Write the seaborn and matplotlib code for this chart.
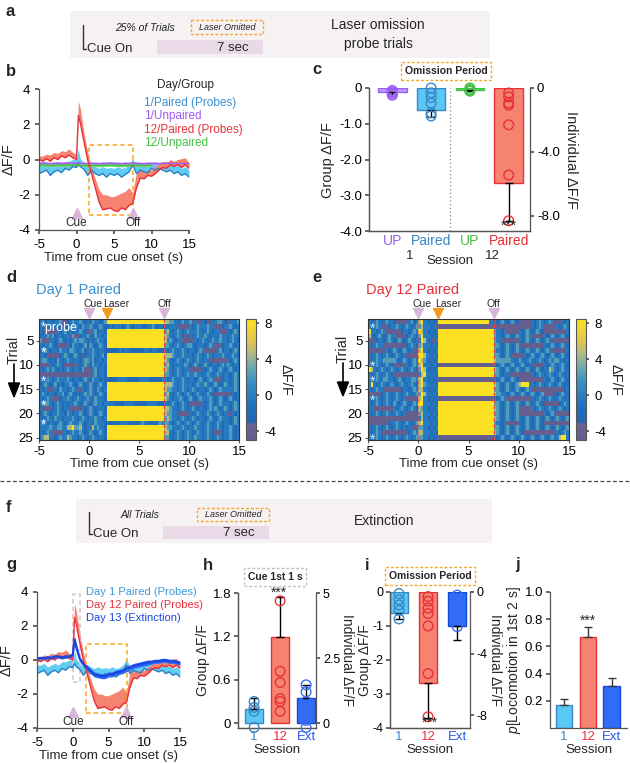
import numpy as np
import pandas as pd
import matplotlib
matplotlib.use('Agg')
import matplotlib.pyplot as plt
import matplotlib.transforms as mtransforms
from matplotlib.colors import LinearSegmentedColormap
from matplotlib.patches import Rectangle, Polygon
import seaborn as sns

sns.set_theme(style='ticks')
plt.rcParams['font.family'] = ['Liberation Sans', 'DejaVu Sans']
plt.rcParams['mathtext.fontset'] = 'custom'
plt.rcParams['mathtext.it'] = 'Liberation Sans:italic'
plt.rcParams['mathtext.rm'] = 'Liberation Sans'
plt.rcParams['axes.unicode_minus'] = False
plt.rcParams['xtick.labelsize'] = 9.5
plt.rcParams['ytick.labelsize'] = 9.5
plt.rcParams['axes.edgecolor'] = '#555555'
plt.rcParams['axes.linewidth'] = 0.9
plt.rcParams['xtick.color'] = '#555555'
plt.rcParams['ytick.color'] = '#555555'
plt.rcParams['xtick.labelcolor'] = 'black'
plt.rcParams['ytick.labelcolor'] = 'black'
plt.rcParams['xtick.major.size'] = 3
plt.rcParams['ytick.major.size'] = 3

# ---------------- data ----------------
TIME = [-5, -4.5, -4, -3.5, -3, -2.5, -2, -1.5, -1, -0.5, 0, 0.25, 0.5,
        1, 1.5, 2, 2.5, 3, 3.5, 4, 4.5, 5, 5.5, 6, 6.5, 7, 7.5, 8, 8.5, 9,
        9.5, 10, 10.5, 11, 11.5, 12, 12.5, 13, 13.5, 14, 14.5, 15]

D12P_LO = [0.0, -0.1, 0.05, -0.1, 0.1, 0.0, 0.2, 0.1, 0.25, 0.1, 0.0, 2.5, 2.1,
           1.0, -0.05, -0.8, -1.6, -2.4, -2.85, -2.8, -2.75, -2.9, -2.95, -2.75, -2.85, -2.6, -2.5,
           -1.6, -1.05, -1.1, -0.9, -0.95, -0.8, -0.6, -0.45, -0.5, -0.3, -0.4, -0.3, -0.45, -0.3, -0.5]
D12P_HI = [0.2, 0.2, 0.3, 0.25, 0.4, 0.35, 0.5, 0.45, 0.6, 0.4, 0.3, 3.3, 2.9,
           1.5, 0.4, -0.45, -1.1, -1.7, -2.0, -2.0, -2.1, -2.1, -2.0, -1.9, -1.8, -1.6, -1.9,
           -0.7, -0.6, -0.7, -0.6, -0.6, -0.4, -0.3, -0.1, -0.2, 0.0, -0.1, 0.0, 0.05, 0.1, -0.2]
D1P_LO = [-0.8, -0.7, -0.6, -0.9, -0.7, -0.6, -0.75, -0.5, -0.6, -0.4, -0.45, -0.2, -0.4,
          -0.55, -0.9, -0.6, -0.8, -0.9, -0.8, -1.0, -0.8, -0.9, -0.8, -1.0, -0.85, -0.7, -0.3,
          -0.8, -0.6, -0.7, -0.75, -0.5, -0.6, -0.5, -0.6, -0.7, -0.6, -0.8, -0.7, -0.9, -0.8, -1.0]
D1P_HI = [-0.3, -0.3, -0.2, -0.4, -0.3, -0.2, -0.3, -0.1, -0.1, 0.0, 0.0, 0.6, 0.05,
          -0.2, -0.4, -0.25, -0.4, -0.5, -0.4, -0.5, -0.45, -0.5, -0.4, -0.5, -0.45, -0.3, 0.05,
          -0.4, -0.3, -0.3, -0.35, -0.2, -0.2, -0.2, -0.25, -0.3, -0.3, -0.4, -0.35, -0.5, -0.4, -0.6]
D1U_LO = [-0.3, -0.28, -0.3, -0.32, -0.3, -0.28, -0.3, -0.3, -0.28, -0.3, -0.3, -0.25, -0.3,
          -0.3, -0.32, -0.3, -0.3, -0.32, -0.3, -0.3, -0.28, -0.3, -0.3, -0.32, -0.3, -0.3, -0.28,
          -0.3, -0.3, -0.32, -0.3, -0.3, -0.3, -0.32, -0.3, -0.28, -0.3, -0.3, -0.32, -0.3, -0.3, -0.3]
D1U_HI = [-0.15, -0.12, -0.14, -0.16, -0.14, -0.12, -0.15, -0.14, -0.12, -0.15, -0.14, -0.08, -0.14,
          -0.14, -0.16, -0.14, -0.15, -0.16, -0.14, -0.15, -0.12, -0.14, -0.15, -0.16, -0.14, -0.15, -0.12,
          -0.14, -0.15, -0.16, -0.14, -0.15, -0.14, -0.16, -0.15, -0.12, -0.14, -0.15, -0.16, -0.14, -0.15, -0.14]
TIME_U12 = TIME[:32]
D12U_LO = [-0.4, -0.38, -0.4, -0.42, -0.4, -0.38, -0.4, -0.4, -0.38, -0.4, -0.4, -0.36, -0.4,
           -0.4, -0.42, -0.4, -0.4, -0.42, -0.4, -0.4, -0.38, -0.4, -0.4, -0.42, -0.4, -0.4, -0.38,
           -0.4, -0.4, -0.42, -0.4, -0.4]
D12U_HI = [-0.26, -0.24, -0.26, -0.28, -0.26, -0.24, -0.26, -0.26, -0.24, -0.26, -0.26, -0.2, -0.26,
           -0.26, -0.28, -0.26, -0.26, -0.28, -0.26, -0.26, -0.24, -0.26, -0.26, -0.28, -0.26, -0.26, -0.24,
           -0.26, -0.26, -0.28, -0.26, -0.26]
D13_LO = [0.0, 0.05, 0.0, 0.05, 0.05, 0.1, 0.1, 0.05, 0.1, 0.1, 0.2, 1.0, 0.5,
          -0.1, -0.4, -0.6, -0.8, -1.0, -1.05, -1.1, -1.1, -1.0, -1.0, -0.9, -0.85, -0.8, -0.7,
          -0.6, -0.5, -0.45, -0.4, -0.35, -0.3, -0.25, -0.2, -0.2, -0.15, -0.15, -0.2, -0.2, -0.25, -0.3]
D13_HI = [0.2, 0.2, 0.2, 0.25, 0.2, 0.3, 0.3, 0.25, 0.3, 0.3, 0.4, 1.4, 1.0,
          0.2, -0.1, -0.3, -0.5, -0.7, -0.75, -0.8, -0.8, -0.7, -0.7, -0.6, -0.55, -0.5, -0.3,
          -0.3, -0.2, -0.15, -0.1, -0.05, 0.0, 0.0, 0.05, 0.05, 0.1, 0.1, 0.05, 0.05, 0.0, -0.05]

# panel c (group means, lower error ends) and individual points (right axis)
C_LABELS = ['UP', 'Paired', 'UP', 'Paired']
C_MEAN = [-0.1, -0.62, -0.05, -2.67]
C_ERR = [-0.16, -0.8, -0.08, -3.72]
C_IND = [[-0.15, -0.25, -0.3, -0.4, -0.45],
         [0.0, -0.3, -0.6, -0.95, -1.55, -1.75],
         [0.0, -0.1, -0.2, -0.15],
         [-0.31, -0.56, -0.94, -1.07, -2.3, -5.44, -8.3]]
# panel h
H_LABELS = ['1', '12', 'Ext']
H_MEAN = [0.2, 1.19, 0.35]
H_ERR = [0.35, 1.745, 0.53]
H_IND = [[0.83, 0.6, 0.45, -0.17],
         [4.7, 1.99, 1.56, 0.94, 0.83, 0.45],
         [1.47, 1.2, 0.83, 0.45, 0.1, -0.17]]
# panel i
I_MEAN = [-0.62, -2.67, -1.0]
I_ERR = [-0.8, -3.72, -1.4]
I_IND = [[-0.1, -0.5, -0.84, -1.2, -1.75],
         [-0.3, -0.6, -1.05, -1.4, -2.2, -5.3, -8.1],
         [-0.2, -0.84, -1.5, -2.25]]
# panel j
J_MEAN = [0.17, 0.67, 0.31]
J_ERR = [0.21, 0.74, 0.37]

# heatmaps: rows = trials, chars = 0.25 s bins (-5 .. 15 s); parts: pre | laser | post
HEAT_LEVELS = {'0': -4.5, '1': -2.2, '2': -0.5, '3': 2.3, '4': 4.8, '5': 8.3}
D_PROBES = [2, 7, 13, 18, 22]
D_ROWS = [
    "23122 12230 01232 23212 13221 23 | 55555 55555 55555 55555 555 | 44332 12322 30200 21002 23321 02223",
    "21222 32201 12232 21322 32123 21 | 12122 21232 12221 12232 121 | 21222 00000 21232 22322 00012 23212",
    "21000 00212 31212 23210 02312 21 | 55555 55555 55555 55555 555 | 34212 32123 22232 12321 22000 21232",
    "12232 31221 22030 01223 21322 12 | 55555 55555 55555 55555 555 | 43212 32100 21232 23212 21322 12322",
    "30002 21232 12123 23321 21232 21 | 55555 55555 55555 55555 555 | 42321 22000 00212 32123 22322 12321",
    "21223 21000 02132 21231 32123 21 | 55555 55555 55555 55555 555 | 33212 32123 32122 21232 00012 23212",
    "12321 22132 21332 12312 23212 21 | 11111 21221 11111 22122 111 | 21232 12321 22123 20000 02312 21232",
    "22100 00012 32123 21012 23212 31 | 55555 55555 55555 55555 555 | 44432 12322 21232 12321 22232 12321",
    "23321 21321 23212 21233 23122 12 | 55555 55555 55555 55555 555 | 43212 32123 21232 12200 00000 21232",
    "00002 12321 00000 21232 13221 21 | 55555 55555 55555 55555 555 | 34212 22232 12321 23212 21232 32122",
    "21232 32121 23212 21300 02312 21 | 55555 55555 55555 55555 555 | 43212 32122 00000 21232 12321 23212",
    "00000 00000 00000 00000 02312 21 | 55555 55555 55555 55555 555 | 33212 32123 22322 12321 23212 21232",
    "21232 12322 23212 21232 13221 21 | 11112 22211 11122 22111 112 | 21232 12321 22123 21232 00012 21232",
    "12321 23121 22321 23212 32123 21 | 55555 55555 55555 55555 555 | 44432 12322 21232 23212 32123 21232",
    "21200 02132 21232 00212 32132 12 | 55555 55555 55555 55555 555 | 43322 12321 23212 21232 12322 22232",
    "23212 21223 12321 21232 32123 21 | 55555 55555 55555 55555 555 | 34212 32123 21232 12321 00000 00212",
    "21232 00012 23212 32123 21322 21 | 55555 55555 55555 55555 555 | 43212 23212 32123 22232 12321 23212",
    "22332 12321 21223 21232 12322 12 | 22211 11222 21111 12222 111 | 21232 12321 00000 21232 12322 21232",
    "20000 12321 22000 00212 32122 21 | 55555 55555 55555 55555 555 | 44322 12321 23212 21232 32123 21232",
    "12321 22322 13212 23212 32123 21 | 55555 55555 55555 55555 555 | 43322 00000 21232 12321 23212 00212",
    "21232 13221 22232 12321 22322 12 | 55555 55555 55555 55555 555 | 34322 12321 23212 21232 12322 21232",
    "23212 21232 12322 23212 21322 21 | 21111 22221 11123 21111 232 | 33212 32123 21232 12321 23212 21232",
    "22223 22332 24453 34212 24232 21 | 55555 55555 55555 55555 555 | 43322 12321 22322 12321 23212 23212",
    "21232 00000 21232 23212 32123 21 | 55555 55555 55555 55555 555 | 44212 32123 21232 12321 00012 23212",
    "23442 21232 24322 12321 23212 21 | 55555 55555 55555 55555 555 | 33212 32123 22322 12321 23212 23212",
]
E_PROBES = [2, 10, 13, 17, 25]
E_ROWS = [
    "21232 12322 10000 02312 4522 1212 | 55555 55555 55555 55555 22 | 21232 12321 00000 21232 12320 00212",
    "21232 00012 23212 32123 3422 2120 | 00000 00000 00000 00000 00 | 00000 00000 00000 21232 00000 21232",
    "52212 32000 00012 21232 5422 1212 | 55555 55555 55555 55555 55 | 32212 00000 21232 12321 00000 00002",
    "42123 21232 20000 12321 3522 2121 | 55555 55555 55555 55555 55 | 32212 32123 21232 00000 21232 12321",
    "00012 21232 12321 23212 2542 1002 | 55555 55555 55555 55555 55 | 32200 00000 21232 12321 23200 00000",
    "21232 20000 00000 12321 3422 2121 | 55555 55555 55555 55555 55 | 33212 32123 00000 00000 21232 12321",
    "00000 00212 32123 21200 4522 1212 | 55555 55555 55555 55555 55 | 32212 32123 21232 12321 23200 00002",
    "21232 12321 23212 00000 5542 2121 | 55555 55555 55555 55555 55 | 33212 32000 00212 32123 21232 12321",
    "21232 23333 32123 21232 5432 1212 | 55555 55555 55555 55555 55 | 43333 33212 32123 21232 12323 32212",
    "21232 12321 00000 21232 4522 2121 | 00000 00000 00000 00000 00 | 21232 12321 23212 00000 21232 12321",
    "54212 32123 21232 12321 3542 1212 | 55555 55555 55555 55555 55 | 43212 32123 21232 12321 22432 12321",
    "21232 12321 00000 00000 2452 2121 | 55555 55555 55555 55555 55 | 33212 20000 00000 21232 12321 23212",
    "21232 23322 12321 22332 4522 1212 | 00000 00000 00000 00000 00 | 21232 12321 00000 00000 21232 12321",
    "25212 32123 21232 12321 4532 2121 | 55555 55555 55555 55555 55 | 43212 32123 45552 21232 12321 23212",
    "21232 20000 00012 21232 4422 1212 | 55555 55555 55555 55555 55 | 33212 32123 21232 00000 00000 00012",
    "00000 12321 23212 32123 3542 2121 | 55555 55555 55555 55555 55 | 43322 12321 23212 32123 00000 12321",
    "21232 12321 23212 00000 4522 1212 | 00000 00000 00000 00000 00 | 21232 00000 00000 21232 12321 23212",
    "21232 12321 32123 21232 5522 2121 | 55555 55555 55555 55555 55 | 33212 32123 21232 12321 00000 01232",
    "22000 00000 21232 12321 4322 1212 | 55555 55555 55555 55555 55 | 43212 32123 00000 21232 12321 23212",
    "21232 12321 23212 00000 3422 2121 | 55555 55555 55555 55555 55 | 33212 32123 00000 00000 21232 00000",
    "00000 00000 00000 00000 2422 1212 | 55555 55555 55555 55555 55 | 43212 32123 21232 12321 23212 32123",
    "00000 00012 23212 32123 4522 2121 | 55555 55555 55555 55555 55 | 32212 00000 21232 12321 00000 00000",
    "21232 12321 23212 12000 3322 1212 | 55555 55555 55555 55555 55 | 33212 32123 21232 12321 23212 32123",
    "21232 00000 00000 01232 4422 2121 | 55555 55555 55555 55555 55 | 43212 32123 21000 00000 00000 21232",
    "21232 12321 23212 32123 3322 1212 | 00000 00000 00000 00000 00 | 21232 12321 23212 32123 21232 24552",
]

# ---------------- colours ----------------
LBLUE_FILL, LBLUE_LINE = '#62cdf2', '#2f7fc4'
RED_FILL, RED_LINE = '#f5836f', '#e8303a'
PURPLE, GREEN = '#9d5cf5', '#44c044'
EXT_FILL, EXT_LINE = '#2f6cf8', '#1c45e0'
ORANGE = '#f5a623'
TRI = '#d9b6d9'
HMAP = LinearSegmentedColormap.from_list('parulaish', [
    (0.0, '#635d8e'), (0.126, '#6a6494'), (0.148, '#2864b0'), (0.259, '#1c6fbd'),
    (0.370, '#2a7fc2'), (0.481, '#3990c2'), (0.593, '#6aa8b2'), (0.704, '#a8b88a'),
    (0.815, '#e0c450'), (1.0, '#fde31e')])

W, H = 630, 763
fig = plt.figure(figsize=(W / 100, H / 100), dpi=100)


def axpx(l, t, r, b):
    ax = fig.add_axes([l / W, 1 - b / H, (r - l) / W, (b - t) / H])
    ax.set_facecolor('none')
    return ax


ov = fig.add_axes([0, 0, 1, 1])
ov.set_xlim(0, W)
ov.set_ylim(H, 0)
ov.axis('off')
ov.set_zorder(10)
ov.patch.set_visible(False)


def label(x, y, s):
    ov.text(x, y, s, fontsize=12, fontweight='bold', ha='left', va='center')


def trace(ax, t, lo, hi, fill, line, lw=1.0, mid=False):
    ax.fill_between(t, lo, hi, color=fill, lw=0)
    yy = (np.array(lo) + np.array(hi)) / 2 if mid else lo
    sns.lineplot(x=t, y=yy, color=line, lw=lw, ax=ax, estimator=None)


def style_trace_ax(ax):
    ax.set_xlim(-5, 15)
    ax.set_ylim(-4, 4)
    ax.set_xticks([-5, 0, 5, 10, 15])
    ax.set_yticks([-4, -2, 0, 2, 4])
    ax.set_xlabel('Time from cue onset (s)', fontsize=9.5, labelpad=1)
    ax.set_ylabel('ΔF/F', fontsize=10.5, labelpad=2)
    sns.despine(ax=ax)


def schedule_box(x0, y0, x1, y1, top_text, right_text):
    ov.add_patch(Rectangle((x0, y0), x1 - x0, y1 - y0, fc='#f6f1f2', ec='none'))
    h = y1 - y0
    ov.plot([x0 + 13, x0 + 13, x0 + 16], [y0 + 0.3 * h, y0 + 0.8 * h, y0 + 0.8 * h], color='#333333', lw=1)
    ov.text(x0 + 17, y0 + 0.8 * h, 'Cue On', fontsize=9.5, va='center', ha='left')
    ov.text(x0 + 45, y0 + 0.36 * h, top_text, fontsize=7.5, style='italic', va='center', ha='left')
    ov.add_patch(Rectangle((x0 + 121, y0 + 0.2 * h), 72, 0.29 * h, fill=False, ec=ORANGE, ls=(0, (2, 1.5)), lw=1))
    ov.text(x0 + 157, y0 + 0.345 * h, 'Laser Omitted', fontsize=6.5, style='italic', va='center', ha='center')
    ov.add_patch(Rectangle((x0 + 87, y0 + 0.62 * h), 106, 0.3 * h, fc='#ead9e6', ec='none'))
    ov.text(x0 + 163, y0 + 0.78 * h, '7 sec', fontsize=9.5, va='center', ha='center')
    ov.text(x0 + 308, y0 + 0.5 * h, right_text, fontsize=10, va='center', ha='center', linespacing=1.5)


# ---------------- a ----------------
label(6, 12, 'a')
schedule_box(70, 11, 490, 58, '25% of Trials', 'Laser omission\nprobe trials')

# ---------------- b ----------------
label(6, 72, 'b')
axb = axpx(39, 89, 189, 230)
trace(axb, TIME, D1P_LO, D1P_HI, LBLUE_FILL, LBLUE_LINE)
trace(axb, TIME, D1U_LO, D1U_HI, '#b995f8', PURPLE, mid=True)
trace(axb, TIME_U12, D12U_LO, D12U_HI, '#7ad67a', GREEN, mid=True)
trace(axb, TIME, D12P_LO, D12P_HI, RED_FILL, RED_LINE)
axb.add_patch(Rectangle((1.7, -3.16), 5.83, 3.98, fill=False, ec=ORANGE, ls=(0, (3, 2)), lw=1.1))
for xx, tt in [(0, 'Cue'), (7.5, 'Off')]:
    axb.plot([xx], [-3.05], marker='^', ms=7, color=TRI, clip_on=False, ls='none')
    axb.text(xx, -3.62, tt, fontsize=8.5, ha='center', va='center')
style_trace_ax(axb)
ov.text(185, 85, 'Day/Group', fontsize=8.5, ha='center', va='center')
for yy, s, c in [(103, '1/Paired (Probes)', '#3a8fd0'), (116, '1/Unpaired', PURPLE),
                 (130, '12/Paired (Probes)', RED_LINE), (143, '12/Unpaired', GREEN)]:
    ov.text(144, yy, s, fontsize=8.5, color=c, ha='left', va='center')


# ---------------- bar helper ----------------
def bar_panel(ax, means, errs, ind, fills, edges, pt_edges, width, xlim, ylim, ylim_r):
    n = len(means)
    idx = list(range(n))
    sns.barplot(x=idx, y=means, hue=idx, palette=fills, legend=False, width=width,
                saturation=1, ax=ax, zorder=2)
    for p, ec in zip(ax.patches, edges):
        p.set_edgecolor(ec)
        p.set_linewidth(1.0)
    for i, (m, e) in enumerate(zip(means, errs)):
        if e < m:
            yerr = [[m - e], [0]]
        else:
            yerr = [[0], [e - m]]
        ax.errorbar([i], [m], yerr=yerr, fmt='none', ecolor='black', elinewidth=1, capsize=3,
                    capthick=1, zorder=3)
    ax2 = ax.twinx()
    for i, vals in enumerate(ind):
        sns.scatterplot(x=[i] * len(vals), y=vals, ax=ax2, s=48, color=pt_edges[i],
                        facecolor='none', edgecolor=pt_edges[i], linewidth=1.0, clip_on=False,
                        legend=False, zorder=4)
    ax.set_xlim(*xlim)
    ax.set_ylim(*ylim)
    ax2.set_ylim(*ylim_r)
    ax.spines['top'].set_visible(False)
    ax2.spines['top'].set_visible(False)
    ax.spines['right'].set_visible(False)
    ax.tick_params(axis='x', length=0, pad=2)
    ax.tick_params(axis='y', pad=2)
    ax2.tick_params(axis='y', pad=2)
    ax.set_xlabel('')
    ax2.set_xlabel('')
    return ax2


# ---------------- c ----------------
label(312, 70, 'c')
axc = axpx(369, 88, 530, 231)
axc2 = bar_panel(axc, C_MEAN, C_ERR, C_IND,
                 ['#b9a0f7', '#5ac8f5', '#7ad67a', RED_FILL],
                 [PURPLE, '#3a86c8', GREEN, RED_LINE],
                 [PURPLE, '#3a86c8', GREEN, RED_LINE],
                 0.74, (-0.6, 3.55), (-4, 0), (-8.94, 0))
axc.axvline(1.5, color='#888888', ls=(0, (1, 2)), lw=0.9)
axc.set_yticks([0, -1, -2, -3, -4])
axc.set_yticklabels(['0', '-1.0', '-2.0', '-3.0', '-4.0'])
axc2.set_yticks([0, -4, -8])
axc2.set_yticklabels(['0', '-4.0', '-8.0'])
axc.set_xticks([0, 1, 2, 3])
axc.set_xticklabels(C_LABELS, fontsize=10)
for tl, c in zip(axc.get_xticklabels(), [PURPLE, '#3a86c8', GREEN, RED_LINE]):
    tl.set_color(c)
axc.set_ylabel('Group ΔF/F', fontsize=10.5, labelpad=3)
axc2.set_ylabel('Individual ΔF/F', fontsize=10.5, rotation=270, va='bottom', labelpad=3)
ov.text(410, 256, '1', fontsize=9.5, ha='center', va='center')
ov.text(492, 256, '12', fontsize=9.5, ha='center', va='center')
ov.text(450, 261, 'Session', fontsize=9.5, ha='center', va='center')
ov.text(509, 226, '***', fontsize=10, ha='center', va='center')
ov.text(446, 71, 'Omission Period', fontsize=7.5, fontweight='bold', ha='center', va='center',
        bbox=dict(boxstyle='square,pad=0.35', fc='white', ec=ORANGE, ls=(0, (2, 1.5)), lw=1))


# ---------------- d / e heatmaps ----------------
def build(rows, lens):
    mat = []
    for r in rows:
        parts = [p.replace(' ', '') for p in r.split('|')]
        s = ''.join((p + p[-1] * n)[:n] for p, n in zip(parts, lens))
        mat.append([HEAT_LEVELS[ch] for ch in s])
    return np.array(mat, dtype=float)


def heat_panel(ax, cax, mat, probes, laser_col, star_color, title, title_color, tx, first_probe_text):
    sns.heatmap(mat, ax=ax, cbar_ax=cax, cmap=HMAP, vmin=-5, vmax=8.5,
                xticklabels=False, yticklabels=False, rasterized=True)
    ax.set_xticks([0, 20, 40, 60, 80])
    ax.set_xticklabels(['-5', '0', '5', '10', '15'], rotation=0)
    ax.set_yticks([4.5, 9.5, 14.5, 19.5, 24.5])
    ax.set_yticklabels(['5', '10', '15', '20', '25'], rotation=0)
    ax.tick_params(axis='both', length=2.5, width=0.8, left=True, bottom=True, pad=1.5)
    for s in ax.spines.values():
        s.set_visible(True)
        s.set_linewidth(0.8)
        s.set_color('#333333')
    ax.set_xlabel('Time from cue onset (s)', fontsize=9.5, labelpad=0)
    ax.set_ylabel('')
    ax.axvline(20, color='#e8403a', ls=(0, (3, 2)), lw=0.9, alpha=0.6)
    ax.axvline(50, color='#e8403a', ls=(0, (3, 2)), lw=0.9)
    trans = mtransforms.blended_transform_factory(ax.transData, ax.transAxes)
    for xx, dx, tt, cc in [(20, 1.6, 'Cue', TRI), (laser_col, 3.8, 'Laser', '#f39a1e'), (50, 0, 'Off', TRI)]:
        ax.plot([xx], [1.05], marker='v', ms=7, color=cc, transform=trans, clip_on=False, ls='none')
        ax.text(xx + dx, 1.125, tt, fontsize=7.5, ha='center', va='center', transform=trans)
    for k, r in enumerate(probes):
        txt = '*probe' if (k == 0 and first_probe_text) else '*'
        ax.text(0.8, r - 0.5 + 0.45, txt, color=star_color, fontsize=9 if k == 0 and first_probe_text else 10,
                ha='left', va='center')
    cb = ax.collections[0].colorbar
    cb.set_ticks([-4, 0, 4, 8])
    cb.ax.tick_params(labelsize=9.5, length=2.5)
    cb.outline.set_visible(True)
    cb.outline.set_linewidth(0.8)
    cb.set_label('ΔF/F', rotation=270, fontsize=10.5, labelpad=12)
    ov.text(tx, 290, title, color=title_color, fontsize=10.5, ha='left', va='center')


def trial_arrow(x, ytext):
    ov.text(x, ytext, 'Trial', rotation=90, fontsize=10.5, ha='center', va='center')
    ov.plot([x, x], [ytext + 14, ytext + 34], color='black', lw=1.2)
    ov.add_patch(Polygon([[x - 5.5, ytext + 33], [x + 5.5, ytext + 33], [x, ytext + 47]],
                         closed=True, color='black'))


label(6, 278, 'd')
axd = axpx(39, 319, 239, 440)
cad = axpx(246, 319, 256, 440)
heat_panel(axd, cad, build(D_ROWS, [27, 23, 30]), D_PROBES, 27.2, 'white',
           'Day 1 Paired', '#3a8fd0', 36, True)
trial_arrow(14, 350)

label(312, 278, 'e')
axe = axpx(368, 319, 569, 440)
cae = axpx(576, 319, 586, 440)
heat_panel(axe, cae, build(E_ROWS, [28, 22, 30]), E_PROBES, 28, '#d6ecff',
           'Day 12 Paired', RED_LINE, 366, False)
trial_arrow(343, 349)

# ---------------- separator and f ----------------
ov.plot([0, W], [481, 481], color='#444444', ls=(0, (3, 2)), lw=0.9)
label(6, 508, 'f')
schedule_box(76, 499, 492, 543, 'All Trials', 'Extinction')

# ---------------- g ----------------
label(6, 565, 'g')
axg = axpx(37, 592, 180, 728)
trace(axg, TIME, D1P_LO, D1P_HI, LBLUE_FILL, LBLUE_LINE)
trace(axg, TIME, D12P_LO, D12P_HI, RED_FILL, RED_LINE)
trace(axg, TIME, D13_LO, D13_HI, EXT_FILL, EXT_LINE, lw=1.6, mid=True)
axg.add_patch(Rectangle((0.0, -1.3), 1.0, 5.2, fill=False, ec='#d9c3cc', ls=(0, (3, 2)), lw=1.1, clip_on=False))
axg.add_patch(Rectangle((1.85, -3.1), 5.75, 4.04, fill=False, ec=ORANGE, ls=(0, (3, 2)), lw=1.1))
for xx, tt in [(0, 'Cue'), (7.5, 'Off')]:
    axg.plot([xx], [-3.05], marker='^', ms=7, color=TRI, clip_on=False, ls='none')
    axg.text(xx, -3.62, tt, fontsize=8.5, ha='center', va='center')
style_trace_ax(axg)
for yy, s, c in [(592, 'Day 1 Paired (Probes)', '#3a9ad9'), (605, 'Day 12 Paired (Probes)', RED_LINE),
                 (618, 'Day 13 (Extinction)', EXT_LINE)]:
    ov.text(86, yy, s, fontsize=8, color=c, ha='left', va='center')

SESS_COLORS = ['#3a86c8', RED_LINE, '#2a55f0']


def session_ticks(ax):
    ax.set_xticks([0, 1, 2])
    ax.set_xticklabels(H_LABELS, fontsize=9.5)
    for tl, c in zip(ax.get_xticklabels(), SESS_COLORS):
        tl.set_color(c)
    ax.set_xlabel('Session', fontsize=9.5, labelpad=1)


# ---------------- h ----------------
label(203, 565, 'h')
axh = axpx(238, 593, 316, 728)
axh2 = bar_panel(axh, H_MEAN, H_ERR, H_IND, ['#5ac8f5', RED_FILL, EXT_FILL],
                 ['#3a86c8', RED_LINE, '#1848d8'], ['#3a86c8', RED_LINE, '#3a6cf0'],
                 0.7, (-0.62, 2.38), (-0.069, 1.8), (-0.19, 5))
axh.set_yticks([0, 0.6, 1.2, 1.8])
axh.set_yticklabels(['0', '0.6', '1.2', '1.8'])
axh2.set_yticks([0, 2.5, 5])
axh2.set_yticklabels(['0', '2.5', '5'])
axh2.tick_params(axis='y', labelsize=9)
session_ticks(axh)
axh.set_ylabel('Group ΔF/F', fontsize=10, labelpad=2)
axh2.set_ylabel('Individual ΔF/F', fontsize=10, rotation=270, va='bottom', labelpad=0)
ov.text(279, 593, '***', fontsize=10, ha='center', va='center')
ov.text(275, 577, 'Cue 1st 1 s', fontsize=7.5, fontweight='bold', ha='center', va='center',
        bbox=dict(boxstyle='square,pad=0.35', fc='white', ec='#cdb8c2', ls=(0, (2, 1.5)), lw=1))

# ---------------- i ----------------
label(365, 565, 'i')
axi = axpx(390, 592, 470, 728)
axi2 = bar_panel(axi, I_MEAN, I_ERR, I_IND, ['#5ac8f5', RED_FILL, EXT_FILL],
                 ['#3a86c8', RED_LINE, '#1848d8'], ['#3a86c8', RED_LINE, '#3a6cf0'],
                 0.62, (-0.31, 2.44), (-4, 0), (-8.83, 0))
axi.set_yticks([0, -1, -2, -3, -4])
axi.set_yticklabels(['0', '-1', '-2', '-3', '-4'])
axi.tick_params(axis='y', labelsize=9)
axi2.set_yticks([0, -4, -8])
axi2.set_yticklabels(['0', '-4', '-8'])
axi2.tick_params(axis='y', labelsize=9)
session_ticks(axi)
axi.set_ylabel('Group ΔF/F', fontsize=10, labelpad=0)
axi2.set_ylabel('Individual ΔF/F', fontsize=10, rotation=270, va='bottom', labelpad=0)
ov.text(430, 723, '***', fontsize=10, ha='center', va='center')
ov.text(430, 576, 'Omission Period', fontsize=7.5, fontweight='bold', ha='center', va='center',
        bbox=dict(boxstyle='square,pad=0.35', fc='white', ec=ORANGE, ls=(0, (2, 1.5)), lw=1))

# ---------------- j ----------------
label(515, 565, 'j')
axj = axpx(550, 592, 627, 728)
sns.barplot(x=[0, 1, 2], y=J_MEAN, hue=[0, 1, 2], palette=['#5ac8f5', RED_FILL, EXT_FILL],
            legend=False, width=0.7, saturation=1, ax=axj, zorder=2)
for p, ec in zip(axj.patches, ['#3a86c8', RED_LINE, '#1848d8']):
    p.set_edgecolor(ec)
    p.set_linewidth(1.0)
for i, (m, e) in enumerate(zip(J_MEAN, J_ERR)):
    axj.errorbar([i], [m], yerr=[[0], [e - m]], fmt='none', ecolor='#3a3a3a',
                 elinewidth=1, capsize=3, capthick=1)
axj.set_xlim(-0.58, 2.63)
axj.set_ylim(0, 1.0)
axj.set_yticks([0.2, 0.4, 0.6, 0.8, 1.0])
axj.set_yticklabels(['0.2', '0.4', '0.6', '0.8', '1.0'])
sns.despine(ax=axj)
axj.tick_params(axis='x', length=0, pad=2)
axj.tick_params(axis='y', pad=2)
session_ticks(axj)
axj.set_ylabel(r'$\it{p}$[Locomotion in 1st 2 s]', fontsize=10, labelpad=1)
ov.text(588, 621, '***', fontsize=10, ha='center', va='center')

fig.savefig('out.png', dpi=100)
